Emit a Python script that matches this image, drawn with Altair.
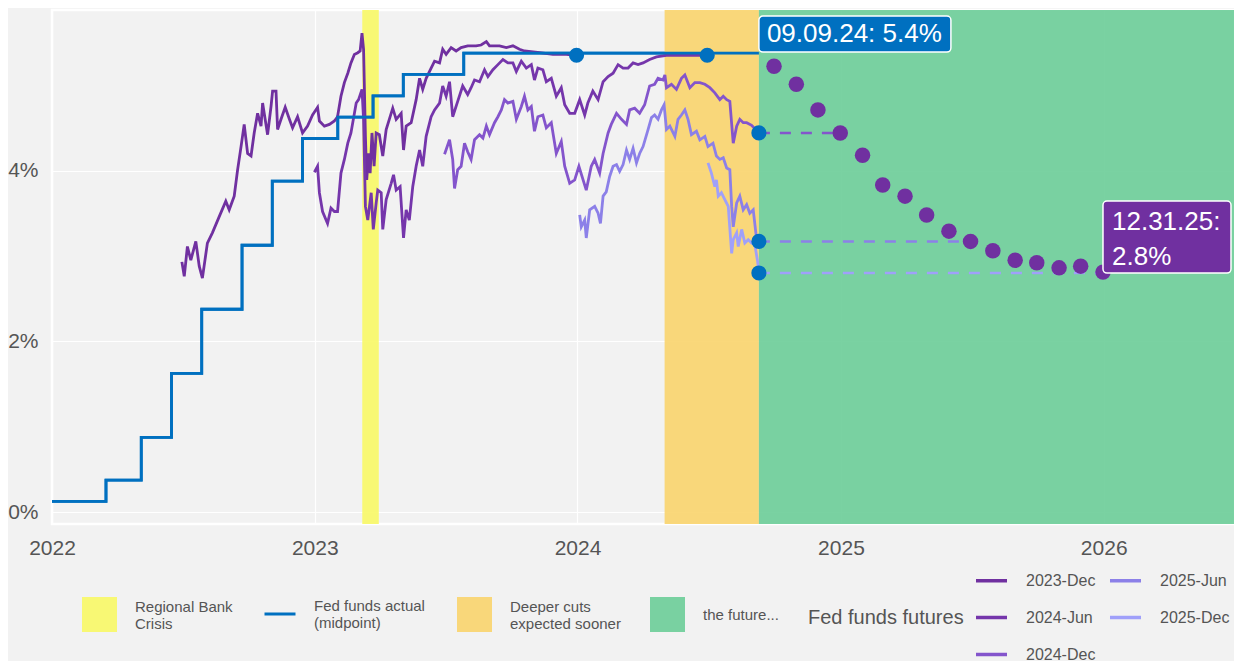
import altair as alt
import pandas as pd
import numpy as np

FONT = "Liberation Sans, Arial, sans-serif"
GRAY = "#555555"

# ---------------- data ----------------
# Fed funds target midpoint (step changes)
fed_dates = ["2022-01-01", "2022-03-17", "2022-05-05", "2022-06-16", "2022-07-28",
             "2022-09-22", "2022-11-03", "2022-12-15", "2023-02-02", "2023-03-23",
             "2023-05-04", "2023-07-27", "2024-09-09"]
fed_vals = [0.125, 0.375, 0.875, 1.625, 2.375, 3.125, 3.875, 4.375, 4.625, 4.875,
            5.125, 5.375, 5.375]

# Fed funds futures, implied rate; time in years since 2022-01-01
dec23_t = [0.494, 0.503, 0.515, 0.528, 0.547, 0.560, 0.572, 0.591, 0.610, 0.636,
           0.661, 0.674, 0.693, 0.706, 0.719, 0.731, 0.744, 0.757, 0.769, 0.782,
           0.795, 0.801, 0.820, 0.833, 0.839, 0.852, 0.858, 0.871, 0.887, 0.903,
           0.915, 0.934, 0.953, 0.972, 0.991, 1.010, 1.017, 1.036, 1.055, 1.074,
           1.086, 1.099, 1.112, 1.125, 1.137, 1.150, 1.163, 1.172, 1.179, 1.185,
           1.192, 1.197, 1.204, 1.210, 1.217, 1.225, 1.233, 1.245, 1.258, 1.271,
           1.296, 1.309, 1.328, 1.337, 1.347, 1.366, 1.385, 1.398, 1.410, 1.423,
           1.442, 1.455, 1.474, 1.486, 1.499, 1.518, 1.537, 1.556, 1.581, 1.613,
           1.632, 1.652, 1.664, 1.702, 1.728, 1.753, 1.778, 1.797, 1.855, 1.905,
           1.956, 1.995]
dec23_v = [2.93, 2.76, 3.11, 2.95, 3.17, 2.88, 2.74, 3.15, 3.27, 3.46,
           3.64, 3.54, 3.70, 4.01, 4.28, 4.54, 4.20, 4.17, 4.44, 4.67,
           4.52, 4.79, 4.42, 4.75, 4.93, 4.93, 4.48, 4.60, 4.74, 4.60,
           4.50, 4.63, 4.44, 4.52, 4.65, 4.74, 4.58, 4.52, 4.54, 4.58,
           4.63, 4.87, 5.03, 5.14, 5.26, 5.36, 5.38, 5.40, 5.61, 5.42,
           4.40, 3.89, 4.20, 3.97, 4.44, 4.05, 4.44, 4.42, 4.17, 4.48,
           4.73, 4.60, 4.67, 4.24, 4.52, 4.56, 4.83, 5.08, 4.95, 5.08,
           5.20, 5.28, 5.26, 5.42, 5.36, 5.44, 5.40, 5.44, 5.46, 5.46,
           5.47, 5.51, 5.46, 5.46, 5.44, 5.46, 5.42, 5.40, 5.38, 5.36,
           5.36, 5.35]

jun24_t = [0.998, 1.010, 1.017, 1.029, 1.048, 1.061, 1.074, 1.086, 1.099, 1.112,
           1.125, 1.137, 1.157, 1.166, 1.179, 1.185, 1.192, 1.201, 1.214, 1.222,
           1.233, 1.239, 1.252, 1.258, 1.271, 1.290, 1.299, 1.309, 1.324, 1.337,
           1.347, 1.359, 1.372, 1.385, 1.398, 1.410, 1.423, 1.442, 1.455, 1.474,
           1.486, 1.499, 1.512, 1.524, 1.543, 1.562, 1.581, 1.594, 1.607, 1.626,
           1.645, 1.658, 1.677, 1.696, 1.715, 1.734, 1.753, 1.766, 1.785, 1.804,
           1.823, 1.835, 1.848, 1.867, 1.880, 1.899, 1.918, 1.937, 1.950, 1.969,
           1.988, 2.007, 2.026, 2.038, 2.057, 2.077, 2.096, 2.115, 2.134, 2.153,
           2.172, 2.191, 2.210, 2.229, 2.248, 2.273, 2.299, 2.337, 2.388, 2.438,
           2.492]
jun24_v = [3.98, 4.05, 3.74, 3.52, 3.38, 3.56, 3.52, 3.52, 3.97, 4.13,
           4.32, 4.44, 4.79, 4.83, 4.95, 4.60, 3.58, 3.42, 3.74, 3.31,
           3.62, 3.77, 3.74, 3.31, 3.66, 3.85, 3.95, 3.77, 3.81, 3.21,
           3.54, 3.42, 3.81, 4.05, 4.24, 4.05, 4.40, 4.63, 4.71, 4.79,
           4.99, 4.87, 5.04, 4.63, 4.81, 4.99, 4.89, 4.97, 5.06, 5.04,
           5.18, 5.10, 5.18, 5.24, 5.30, 5.26, 5.26, 5.16, 5.28, 5.20,
           5.24, 5.06, 5.20, 5.18, 5.04, 5.08, 4.87, 4.97, 4.77, 4.67,
           4.67, 4.83, 4.65, 4.79, 4.93, 4.83, 5.04, 5.10, 5.14, 5.24,
           5.20, 5.20, 5.26, 5.24, 5.26, 5.30, 5.33, 5.35, 5.35, 5.35,
           5.35]

dec24_t = [1.493, 1.512, 1.524, 1.531, 1.543, 1.556, 1.569, 1.581, 1.594, 1.607,
           1.626, 1.639, 1.652, 1.664, 1.683, 1.696, 1.709, 1.721, 1.734, 1.753,
           1.766, 1.785, 1.797, 1.810, 1.823, 1.835, 1.848, 1.867, 1.880, 1.899,
           1.918, 1.937, 1.950, 1.969, 1.988, 2.004, 2.032, 2.051, 2.064, 2.083,
           2.096, 2.115, 2.127, 2.147, 2.166, 2.185, 2.197, 2.216, 2.235, 2.254,
           2.273, 2.292, 2.305, 2.324, 2.331, 2.337, 2.356, 2.375, 2.394, 2.407,
           2.426, 2.445, 2.464, 2.483, 2.502, 2.521, 2.540, 2.553, 2.566, 2.578,
           2.591, 2.604, 2.616, 2.629, 2.642, 2.661, 2.676, 2.689]
dec24_v = [4.19, 4.36, 4.13, 3.79, 4.01, 4.05, 4.32, 4.22, 4.13, 4.36,
           4.42, 4.38, 4.52, 4.42, 4.56, 4.63, 4.71, 4.83, 4.79, 4.81,
           4.60, 4.75, 4.87, 4.71, 4.75, 4.46, 4.63, 4.65, 4.50, 4.56,
           4.20, 4.34, 4.05, 3.85, 3.89, 4.05, 3.77, 4.05, 4.13, 3.97,
           4.20, 4.44, 4.54, 4.67, 4.60, 4.54, 4.71, 4.73, 4.67, 4.77,
           4.99, 5.01, 5.08, 5.06, 5.12, 4.97, 5.01, 4.95, 5.08, 5.12,
           4.97, 5.03, 5.03, 5.01, 4.97, 4.91, 4.83, 4.87, 4.83, 4.81,
           4.32, 4.52, 4.60, 4.56, 4.56, 4.53, 4.48, 4.44]

jun25_t = [2.007, 2.013, 2.026, 2.032, 2.045, 2.064, 2.077, 2.086, 2.096, 2.108,
           2.121, 2.134, 2.147, 2.159, 2.172, 2.185, 2.197, 2.210, 2.223, 2.235,
           2.248, 2.267, 2.280, 2.292, 2.305, 2.318, 2.328, 2.337, 2.350, 2.369,
           2.381, 2.394, 2.407, 2.419, 2.432, 2.451, 2.464, 2.483, 2.495, 2.514,
           2.527, 2.540, 2.553, 2.566, 2.578, 2.585, 2.591, 2.604, 2.616, 2.629,
           2.642, 2.654, 2.667, 2.680, 2.689]
jun25_v = [3.48, 3.34, 3.42, 3.21, 3.54, 3.58, 3.50, 3.38, 3.70, 3.75,
           3.93, 4.05, 4.07, 3.99, 4.07, 4.24, 4.13, 4.26, 4.09, 4.20,
           4.28, 4.48, 4.62, 4.65, 4.60, 4.71, 4.77, 4.48, 4.52, 4.40,
           4.60, 4.65, 4.71, 4.60, 4.42, 4.46, 4.36, 4.40, 4.28, 4.32,
           4.17, 4.13, 4.15, 4.03, 4.01, 3.58, 3.34, 3.62, 3.70, 3.54,
           3.60, 3.50, 3.54, 3.19, 3.17]

dec25_t = [2.495, 2.508, 2.521, 2.527, 2.534, 2.546, 2.559, 2.572, 2.585, 2.591,
           2.604, 2.610, 2.623, 2.635, 2.648, 2.661, 2.673, 2.683, 2.689]
dec25_v = [4.09, 3.97, 3.81, 3.89, 3.70, 3.74, 3.66, 3.58, 3.03, 3.19,
           3.27, 3.11, 3.31, 3.15, 3.19, 3.15, 3.13, 2.95, 2.80]

series_names = ["2023-Dec", "2024-Jun", "2024-Dec", "2025-Jun", "2025-Dec"]
series_colors = ["#7030A0", "#7536AB", "#8455CC", "#8C80E8", "#A0A0FA"]
contract_end = {"2024-Dec": "2024-12-31", "2025-Jun": "2025-06-30", "2025-Dec": "2025-12-31"}

# Implied path of the fed funds rate (month ends)
path_dates = ["2024-09-30", "2024-10-31", "2024-11-30", "2024-12-31", "2025-01-31",
              "2025-02-28", "2025-03-31", "2025-04-30", "2025-05-31", "2025-06-30",
              "2025-07-31", "2025-08-31", "2025-09-30", "2025-10-31", "2025-11-30",
              "2025-12-31"]
path_vals = [5.22, 5.01, 4.71, 4.44, 4.18, 3.83, 3.70, 3.48, 3.29, 3.17,
             3.06, 2.95, 2.92, 2.86, 2.88, 2.81]

# Shaded periods
crisis = ("2023-03-08", "2023-03-31", "Regional Bank|Crisis", "#F8F866")
deeper = ("2024-05-01", "2024-09-09", "Deeper cuts|expected sooner", "#F9D46D")
future = ("2024-09-09", "2026-07-01", "the future...", "#6CCD98")
fed_name = "Fed funds actual|(midpoint)"
FED_BLUE = "#0070C0"
PATH_PURPLE = "#7030A0"


# ---------------- frames ----------------
def from_years(t):
    base = pd.Timestamp("2022-01-01")
    return base + pd.to_timedelta(np.array(t) * 365.25, unit="D")


futs = []
for name, t, v in [("2023-Dec", dec23_t, dec23_v), ("2024-Jun", jun24_t, jun24_v),
                   ("2024-Dec", dec24_t, dec24_v), ("2025-Jun", jun25_t, jun25_v),
                   ("2025-Dec", dec25_t, dec25_v)]:
    futs.append(pd.DataFrame({"series": name, "date": from_years(t), "value": v}))
fut = pd.concat(futs, ignore_index=True)
ends = fut.groupby("series", sort=False).tail(1).copy()
ends.loc[ends["series"].isin(["2024-Dec", "2025-Jun", "2025-Dec"]), "date"] = pd.Timestamp("2024-09-09")

dash_rows = []
for s, e in contract_end.items():
    v = float(ends.loc[ends["series"] == s, "value"].iloc[0])
    dash_rows.append({"series": s, "date": pd.Timestamp("2024-09-09"), "value": v})
    dash_rows.append({"series": s, "date": pd.Timestamp(e), "value": v})
dash = pd.DataFrame(dash_rows)

fed = pd.DataFrame({"date": pd.to_datetime(fed_dates), "value": fed_vals, "name": fed_name})
path = pd.DataFrame({"date": pd.to_datetime(path_dates), "value": path_vals})

lab1 = fed.tail(1).copy()
lab1["text"] = lab1["date"].dt.strftime("%m.%d.%y") + ": " + lab1["value"].round(1).astype(str) + "%"
lab2 = path.tail(1).copy()
lab2["text"] = lab2["date"].dt.strftime("%m.%d.%y") + ":\n" + lab2["value"].round(1).astype(str) + "%"

W, H = 1182, 514
xs = alt.Scale(domain=[alt.DateTime(year=2022, month=1, date=1),
                       alt.DateTime(year=2026, month=7, date=1)])
ys = alt.Scale(domain=[-0.14, 5.88], nice=False, zero=False)

x_axis = alt.Axis(format="%Y", tickCount="year", labelFlush=False, grid=True,
                  gridColor="white", gridWidth=1.2, domain=False, ticks=False,
                  tickSize=0, labelPadding=13, labelFontSize=21, labelColor=GRAY, title=None)
y_axis = alt.Axis(values=[0, 2, 4], labelExpr="datum.value + '%'", grid=True,
                  gridColor="white", gridWidth=1.2, domain=False, ticks=False, tickSize=0,
                  labelPadding=14, labelFontSize=21, labelColor=GRAY, title=None)


def band(spec, lx, ly):
    s, e, name, col = spec
    df = pd.DataFrame({"start": [pd.Timestamp(s)], "end": [pd.Timestamp(e)], "name": [name]})
    base = "bottom" if "|" in name else "middle"
    return alt.Chart(df).mark_rect(opacity=0.9).encode(
        x=alt.X("start:T", scale=xs, axis=x_axis),
        x2="end:T",
        color=alt.Color("name:N", scale=alt.Scale(domain=[name], range=[col]),
                        legend=alt.Legend(title=None, orient="none", legendX=lx, legendY=ly,
                                          symbolType="square", symbolSize=1225,
                                          labelBaseline=base,
                                          labelExpr="split(datum.label, '|')")),
    )


crisis_l = band(crisis, 29, 586)
deeper_l = band(deeper, 404, 586)
future_l = band(future, 597, 586)

fed_line_legend = alt.Chart(fed).mark_line(interpolate="step-after", strokeWidth=2.8).encode(
    x=alt.X("date:T", scale=xs),
    y=alt.Y("value:Q", scale=ys, axis=y_axis),
    color=alt.Color("name:N", scale=alt.Scale(domain=[fed_name], range=[FED_BLUE]),
                    legend=alt.Legend(title=None, orient="none", legendX=211, legendY=587,
                                      symbolType="stroke", symbolSize=961,
                                      symbolStrokeWidth=3, labelBaseline="bottom",
                                      labelExpr="split(datum.label, '|')")),
)

fut_lines = alt.Chart(fut).mark_line(strokeWidth=2.8).encode(
    x=alt.X("date:T", scale=xs),
    y=alt.Y("value:Q", scale=ys),
    color=alt.Color("series:N", scale=alt.Scale(domain=series_names, range=series_colors),
                    legend=alt.Legend(title="Fed funds futures", orient="none", legendX=756,
                                      legendY=553, columns=2, columnPadding=7,
                                      rowPadding=11, labelFontSize=16,
                                      symbolType="stroke", symbolSize=961,
                                      symbolStrokeWidth=3.5,
                                      titleOrient="left", titleAnchor="middle",
                                      titleBaseline="line-top", titleLineHeight=10,
                                      titlePadding=10, titleFontSize=20)),
)

fed_line_top = alt.Chart(fed).mark_line(interpolate="step-after", strokeWidth=2.8,
                                        color=FED_BLUE).encode(
    x=alt.X("date:T", scale=xs), y=alt.Y("value:Q", scale=ys))

dash_lines = alt.Chart(dash).mark_line(strokeWidth=2.5, strokeDash=[11, 10]).encode(
    x=alt.X("date:T", scale=xs), y=alt.Y("value:Q", scale=ys),
    color=alt.Color("series:N", scale=alt.Scale(domain=series_names, range=series_colors),
                    legend=None),
)

end_dots = alt.Chart(ends).mark_circle(size=230, color=FED_BLUE, opacity=1).encode(
    x=alt.X("date:T", scale=xs), y=alt.Y("value:Q", scale=ys))

path_dots = alt.Chart(path).mark_circle(size=240, color=PATH_PURPLE, opacity=1).encode(
    x=alt.X("date:T", scale=xs), y=alt.Y("value:Q", scale=ys))

box1 = alt.Chart(lab1).mark_rect(color=FED_BLUE, stroke="white", strokeWidth=1.5,
                                 cornerRadius=4, x2Offset=192, yOffset=-37,
                                 y2Offset=-1).encode(
    x=alt.X("date:T", scale=xs), x2="date:T",
    y=alt.Y("value:Q", scale=ys), y2="value:Q")
text1 = alt.Chart(lab1).mark_text(align="left", baseline="middle", dx=8, dy=-19,
                                  fontSize=26, color="white").encode(
    x=alt.X("date:T", scale=xs), y=alt.Y("value:Q", scale=ys), text="text:N")

box2 = alt.Chart(lab2).mark_rect(color=PATH_PURPLE, stroke="white", strokeWidth=1.5,
                                 cornerRadius=4, x2Offset=128, yOffset=-71,
                                 y2Offset=1).encode(
    x=alt.X("date:T", scale=xs), x2="date:T",
    y=alt.Y("value:Q", scale=ys), y2="value:Q")
text2 = alt.Chart(lab2).mark_text(align="left", baseline="middle", dx=9, dy=-50,
                                  fontSize=26, lineHeight=35, lineBreak="\n",
                                  color="white").encode(
    x=alt.X("date:T", scale=xs), y=alt.Y("value:Q", scale=ys), text="text:N")

chart = alt.layer(
    crisis_l, fed_line_legend, deeper_l, future_l, fut_lines, fed_line_top,
    dash_lines, end_dots, path_dots, box1, text1, box2, text2,
).resolve_scale(color="independent").properties(
    width=W, height=H,
    autosize=alt.AutoSizeParams(type="none"),
    padding={"left": 44, "top": 2, "right": 0, "bottom": 137},
    background="#f2f2f2",
).configure(font=FONT).configure_view(
    fill="#f2f2f2", stroke="white", strokeWidth=2.5,
).configure_legend(
    labelFont=FONT, labelFontSize=15, labelColor=GRAY, labelOffset=17,
    titleFont=FONT, titleColor=GRAY, titleFontWeight="normal", padding=0,
    labelLimit=300,
)

chart.save("out.html", embed_options={"renderer": "svg", "actions": False})
